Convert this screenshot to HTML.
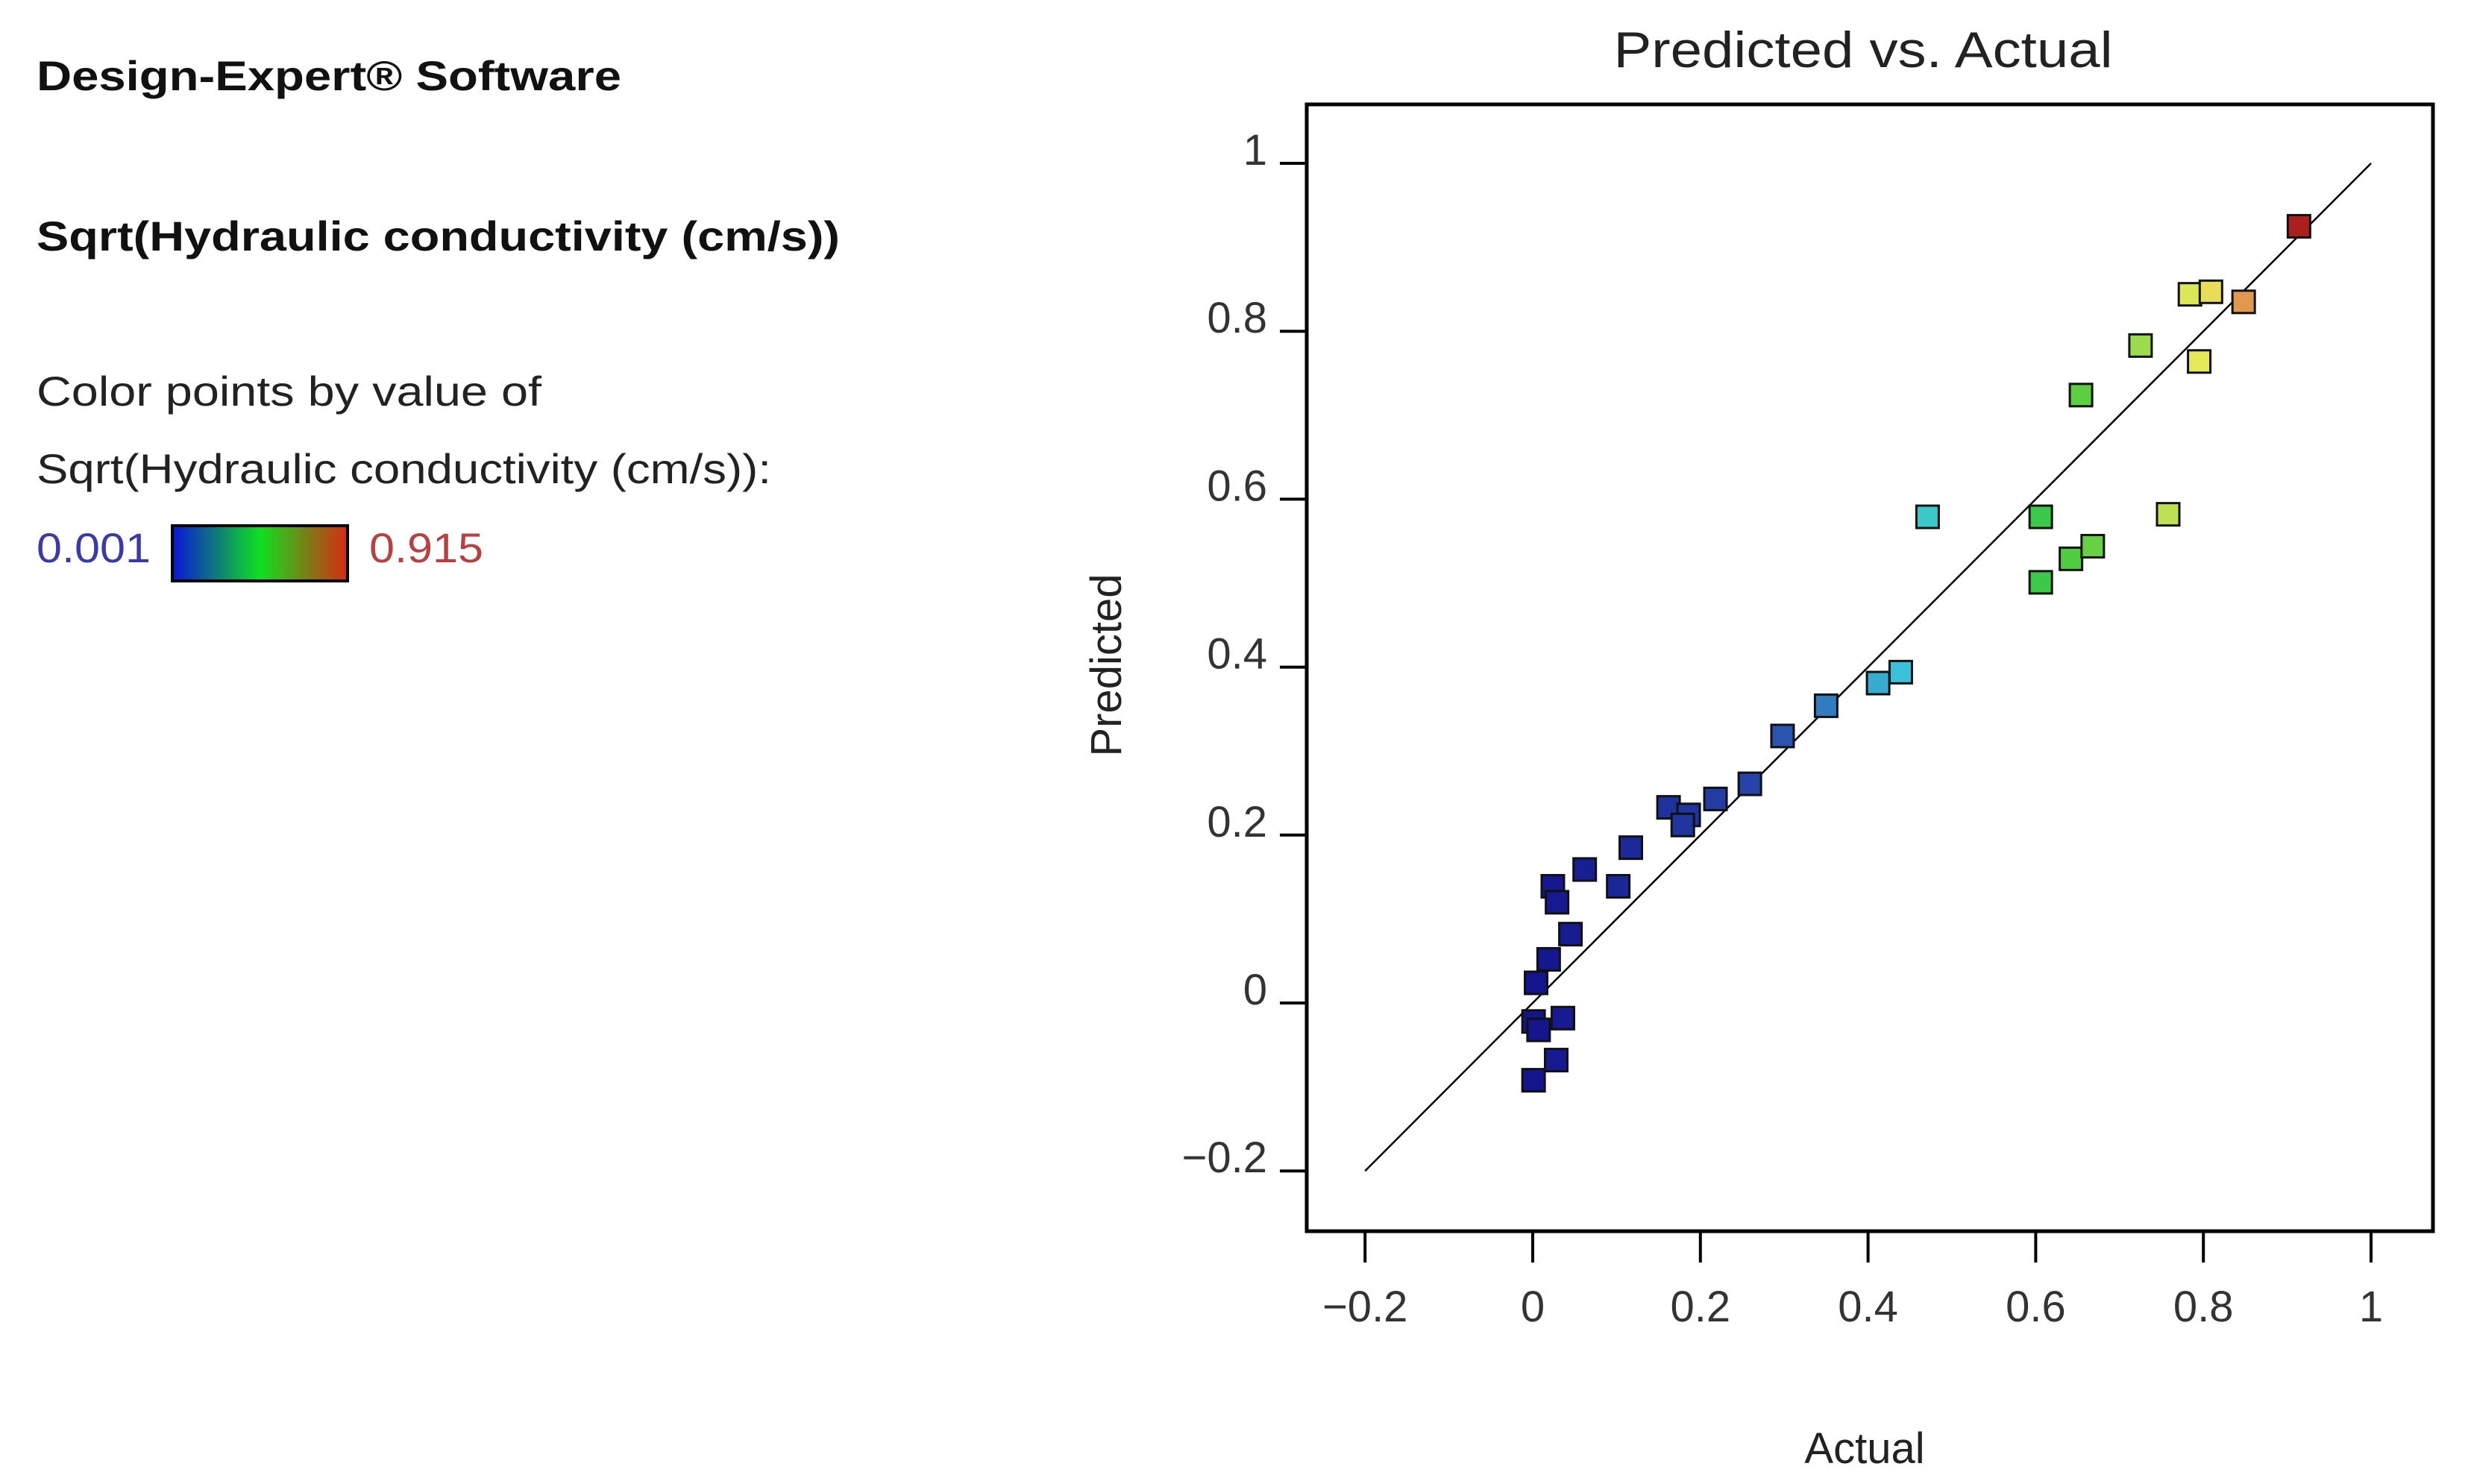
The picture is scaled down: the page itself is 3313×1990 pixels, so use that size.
<!DOCTYPE html>
<html><head><meta charset="utf-8"><style>
html,body{margin:0;padding:0;background:#fff;}
svg{display:block;font-family:"Liberation Sans",sans-serif;}
</style></head><body>
<svg id="chart" width="3313" height="1990" viewBox="0 0 3313 1990">
<rect width="3313" height="1990" fill="#fff"/>
<g>
<text x="49" y="121" font-size="56" font-weight="bold" fill="#111" textLength="784" lengthAdjust="spacingAndGlyphs">Design-Expert® Software</text>
<text x="49" y="336" font-size="56" font-weight="bold" fill="#111" textLength="1077" lengthAdjust="spacingAndGlyphs">Sqrt(Hydraulic conductivity (cm/s))</text>
<text x="49" y="544" font-size="56" fill="#222" textLength="677" lengthAdjust="spacingAndGlyphs">Color points by value of</text>
<text x="49" y="648" font-size="56" fill="#222" textLength="985" lengthAdjust="spacingAndGlyphs">Sqrt(Hydraulic conductivity (cm/s)):</text>
<text x="49" y="754" font-size="56" fill="#3a3aa8" textLength="153" lengthAdjust="spacingAndGlyphs">0.001</text>
<defs><linearGradient id="cg" x1="0" x2="1"><stop offset="0" stop-color="#0a14d8"/><stop offset="0.5" stop-color="#10e020"/><stop offset="1" stop-color="#d82a10"/></linearGradient></defs>
<rect x="231" y="705" width="235" height="74" fill="url(#cg)" stroke="#000" stroke-width="4"/>
<text x="495" y="754" font-size="56" fill="#b84040" textLength="153" lengthAdjust="spacingAndGlyphs">0.915</text>
</g>
<text x="2498" y="90" font-size="68" fill="#222" text-anchor="middle" textLength="669" lengthAdjust="spacingAndGlyphs">Predicted vs. Actual</text>
<text x="2500" y="1962" font-size="58" fill="#222" text-anchor="middle">Actual</text>
<text x="0" y="0" font-size="58" fill="#222" text-anchor="middle" transform="translate(1503,892) rotate(-90)">Predicted</text>
<g id="axes"></g>
<g id="marks"></g>
<rect x="1752" y="140" width="1510" height="1511" fill="none" stroke="#000" stroke-width="5"/>
</svg>
<script>
const xTicks = [-0.2, 0, 0.2, 0.4, 0.6, 0.8, 1];
const yTicks = [-0.2, 0, 0.2, 0.4, 0.6, 0.8, 1];
const tickLabels = ["\u22120.2", "0", "0.2", "0.4", "0.6", "0.8", "1"];
const actual = [0.914,0.784,0.809,0.848,0.725,0.795,0.654,0.471,0.606,0.758,0.642,0.668,0.606,0.439,0.412,0.350,0.298,0.259,0.218,0.162,0.186,0.179,0.117,0.062,0.102,0.024,0.029,0.045,0.019,0.004,0.001,0.007,0.036,0.028,0.001];
const predicted = [0.925,0.844,0.847,0.835,0.783,0.764,0.724,0.579,0.579,0.582,0.529,0.544,0.501,0.394,0.381,0.354,0.318,0.261,0.243,0.233,0.224,0.212,0.185,0.159,0.139,0.139,0.120,0.082,0.052,0.024,-0.022,-0.032,-0.018,-0.068,-0.092];
const lineEnds = [-0.2, 1];

const NS = "http://www.w3.org/2000/svg";
function sx(v){ return 2055 + v*1124; }
function sy(v){ return 1345 - v*1126; }
function mk(tag, attrs, parent){ const e=document.createElementNS(NS,tag); for(const k in attrs) e.setAttribute(k,attrs[k]); parent.appendChild(e); return e; }
function colorFor(v){
  const stops=[[0,[20,20,140]],[0.28,[40,70,170]],[0.45,[60,200,220]],[0.62,[60,200,60]],[0.74,[170,220,80]],[0.8,[235,235,90]],[0.85,[225,150,80]],[0.915,[170,30,30]]];
  for(let i=1;i<stops.length;i++){ if(v<=stops[i][0]){ const a=stops[i-1],b=stops[i]; const t=(v-a[0])/(b[0]-a[0]); return "rgb("+a[1].map((c,j)=>Math.round(c+(b[1][j]-c)*t)).join(",")+")"; } }
  return "rgb(170,30,30)";
}
const axes=document.getElementById('axes'), marks=document.getElementById('marks');
xTicks.forEach((t,i)=>{
  const l=mk('line',{x1:sx(t),x2:sx(t),y1:1651,y2:1693,stroke:'#000','stroke-width':4},axes);
  
  
  const tx=mk('text',{x:sx(t),y:1772,'font-size':58,fill:'#333','text-anchor':'middle'},axes);
  tx.textContent=tickLabels[i];
  
  
});
yTicks.forEach((t,i)=>{
  const l=mk('line',{x1:1716,x2:1752,y1:sy(t),y2:sy(t),stroke:'#000','stroke-width':4},axes);
  
  
  const tx=mk('text',{x:1699,y:sy(t)+2,'font-size':58,fill:'#333','text-anchor':'end'},axes);
  tx.textContent=tickLabels[i];
  
  
});
const ln=mk('line',{x1:sx(lineEnds[0]),y1:sy(lineEnds[0]),x2:sx(lineEnds[1]),y2:sy(lineEnds[1]),stroke:'#000','stroke-width':2.5},marks);


actual.forEach((a,i)=>{
  const r=mk('rect',{x:sx(a)-15,y:sy(predicted[i])-15,width:30,height:30,fill:colorFor(a),stroke:'#111','stroke-width':3},marks);
  
  
});
</script>
</body></html>
